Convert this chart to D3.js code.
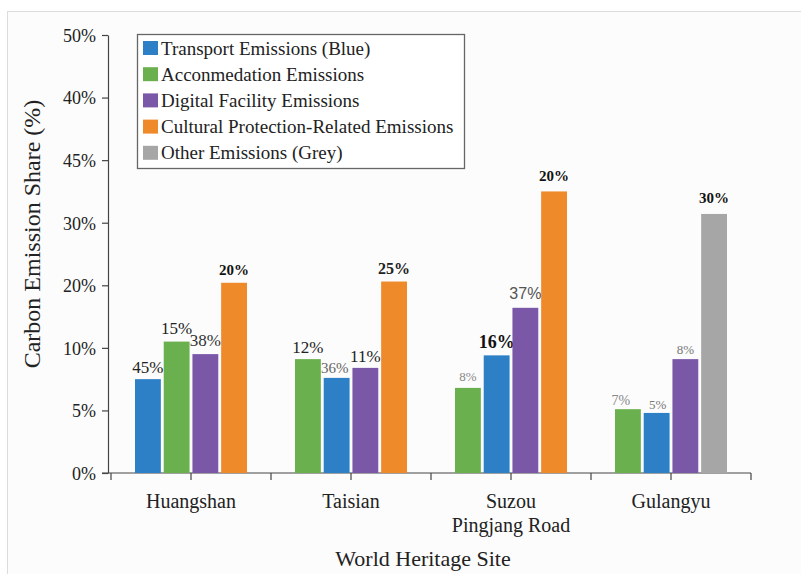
<!DOCTYPE html>
<html><head><meta charset="utf-8">
<script src="https://cdn.jsdelivr.net/npm/d3@7"></script>
<style>body{margin:0;background:#fff;}svg{display:block;}</style>
</head><body>
<svg id="c" width="801" height="574"></svg>
<script>
// ---- data ----
const sites = ["Huangshan", "Taisian", "Suzou\nPingjang Road", "Gulangyu"];
const seriesNames = ["Transport Emissions (Blue)", "Acconmedation Emissions", "Digital Facility Emissions", "Cultural Protection-Related Emissions", "Other Emissions (Grey)"];
const seriesColors = ["#2d7fc6", "#6bb04e", "#7b57a8", "#ef8a2b", "#a6a6a6"];
// bars per site, in drawing order: series index, bar height (axis units), label
const barSeries = [[0,1,2,3],[1,0,2,3],[1,0,2,3],[1,0,2,4]];
const barValues = [[7.5,10.5,9.5,15.2],[9.1,7.6,8.4,15.3],[6.8,9.4,13.2,22.5],[5.1,4.8,9.1,20.7]];
const barLabels = [["45%","15%","38%","20%"],["12%","36%","11%","25%"],["8%","16%","37%","20%"],["7%","5%","8%","30%"]];
// label styles: [size, weight, color, family, dx, gap]
const labelStyles = [
  [[17,"normal","#222","serif",0,6],[17,"normal","#222","serif",0,8],[17,"normal","#333","serif",0,8],[15,"bold","#111","serif",0,8]],
  [[17,"normal","#222","serif",0,6],[15,"normal","#666","serif",-2,5],[17,"normal","#222","serif",0,6],[16,"bold","#222","serif",0,8]],
  [[13,"normal","#888","serif",0,7],[18,"bold","#111","serif",0,7],[16,"normal","#555","sans",0,9],[15,"bold","#111","serif",0,10]],
  [[14,"normal","#888","serif",-7,4],[13,"normal","#777","serif",1,4],[13,"normal","#777","serif",0,5],[15,"bold","#111","serif",0,11]]
];
const yTickValues = [0,5,10,15,20,25,30,35];
const yTickLabels = ["0%","5%","10%","20%","30%","45%","40%","50%"];
const yTitle = "Carbon Emission Share (%)";
const xTitle = "World Heritage Site";

// ---- drawing ----
const svg = d3.select("#c");
const serif = "Liberation Serif, Times New Roman, serif";
const sans = "Liberation Sans, Arial, sans-serif";

svg.append("rect").attr("x",7.5).attr("y",11.5).attr("width",800).attr("height",570)
  .attr("fill","#fcfcfc").attr("stroke","#dcdcdc");

const y = d3.scaleLinear().domain([0,35]).range([473,35]);
const x = d3.scaleBand().domain(sites).range([111,751]).padding(0);
const inner = d3.scaleBand().domain([0,1,2,3]).range([-56,56]).paddingInner(0.1);

// y axis
const yAxis = svg.append("g").attr("transform","translate(108,0)")
  .call(d3.axisLeft(y).tickValues(yTickValues).tickSize(6).tickSizeOuter(0).tickFormat((d,i)=>yTickLabels[i]));
yAxis.attr("font-family",serif);
yAxis.select(".domain").attr("stroke","#444").attr("stroke-width",1.2);
yAxis.selectAll(".tick line").attr("stroke","#444").attr("stroke-width",1.2);
yAxis.selectAll(".tick text").attr("font-family",serif).attr("font-size",18).attr("fill","#222").attr("x",-12).attr("dy","0.35em");

// x axis
const xAxis = svg.append("g").attr("transform","translate(0,473)");
xAxis.append("line").attr("x1",102).attr("x2",751).attr("stroke","#444").attr("stroke-width",1.2);
const tickXs = [x.range()[0]].concat(sites.map(s=>x(s)+x.bandwidth()/2)).concat(sites.map(s=>x(s)+x.bandwidth()));
xAxis.selectAll("line.t").data(tickXs).join("line").attr("class","t")
  .attr("x1",d=>d).attr("x2",d=>d).attr("y1",0).attr("y2",7).attr("stroke","#444").attr("stroke-width",1.2);
xAxis.selectAll("text.cat").data(sites).join("text").attr("class","cat")
  .attr("x",d=>x(d)+x.bandwidth()/2).attr("y",35)
  .attr("text-anchor","middle").attr("font-family",serif).attr("font-size",20).attr("fill","#222")
  .each(function(d){
    const t=d3.select(this);
    d.split("\n").forEach((line,i)=>t.append("tspan").attr("x",x(d)+x.bandwidth()/2).attr("dy",i?"1.2em":0).text(line));
  });

// bars
sites.forEach((s,gi)=>{
  const g = svg.append("g");
  barValues[gi].forEach((v,bi)=>{
    const cx = x(s)+x.bandwidth()/2 + inner(bi);
    g.append("rect").attr("x",cx).attr("y",y(v)).attr("width",inner.bandwidth()).attr("height",y(0)-y(v))
      .attr("fill",seriesColors[barSeries[gi][bi]]);
    const st = labelStyles[gi][bi];
    g.append("text").attr("x",cx+inner.bandwidth()/2+st[4]).attr("y",y(v)-st[5])
      .attr("text-anchor","middle").attr("font-size",st[0]).attr("font-weight",st[1]).attr("fill",st[2])
      .attr("font-family",st[3]==="sans"?sans:serif).text(barLabels[gi][bi]);
  });
});

// axis titles
svg.append("text").attr("transform","translate(40,234) rotate(-90)").attr("text-anchor","middle")
  .attr("font-family",serif).attr("font-size",24).attr("fill","#222").text(yTitle);
svg.append("text").attr("x",423).attr("y",566).attr("text-anchor","middle")
  .attr("font-family",serif).attr("font-size",22).attr("fill","#222").text(xTitle);

// legend
const lg = svg.append("g");
lg.append("rect").attr("x",137.5).attr("y",34.5).attr("width",327).attr("height",134)
  .attr("fill","#fff").attr("stroke","#666").attr("stroke-width",1.3);
seriesNames.forEach((n,i)=>{
  const yy = 48 + i*26.2;
  lg.append("rect").attr("x",143).attr("y",yy-7).attr("width",15).attr("height",14).attr("fill",seriesColors[i]);
  lg.append("text").attr("x",161).attr("y",yy).attr("dy","0.35em").attr("font-family",serif)
    .attr("font-size",19).attr("fill","#222").text(n);
});
</script>
</body></html>
